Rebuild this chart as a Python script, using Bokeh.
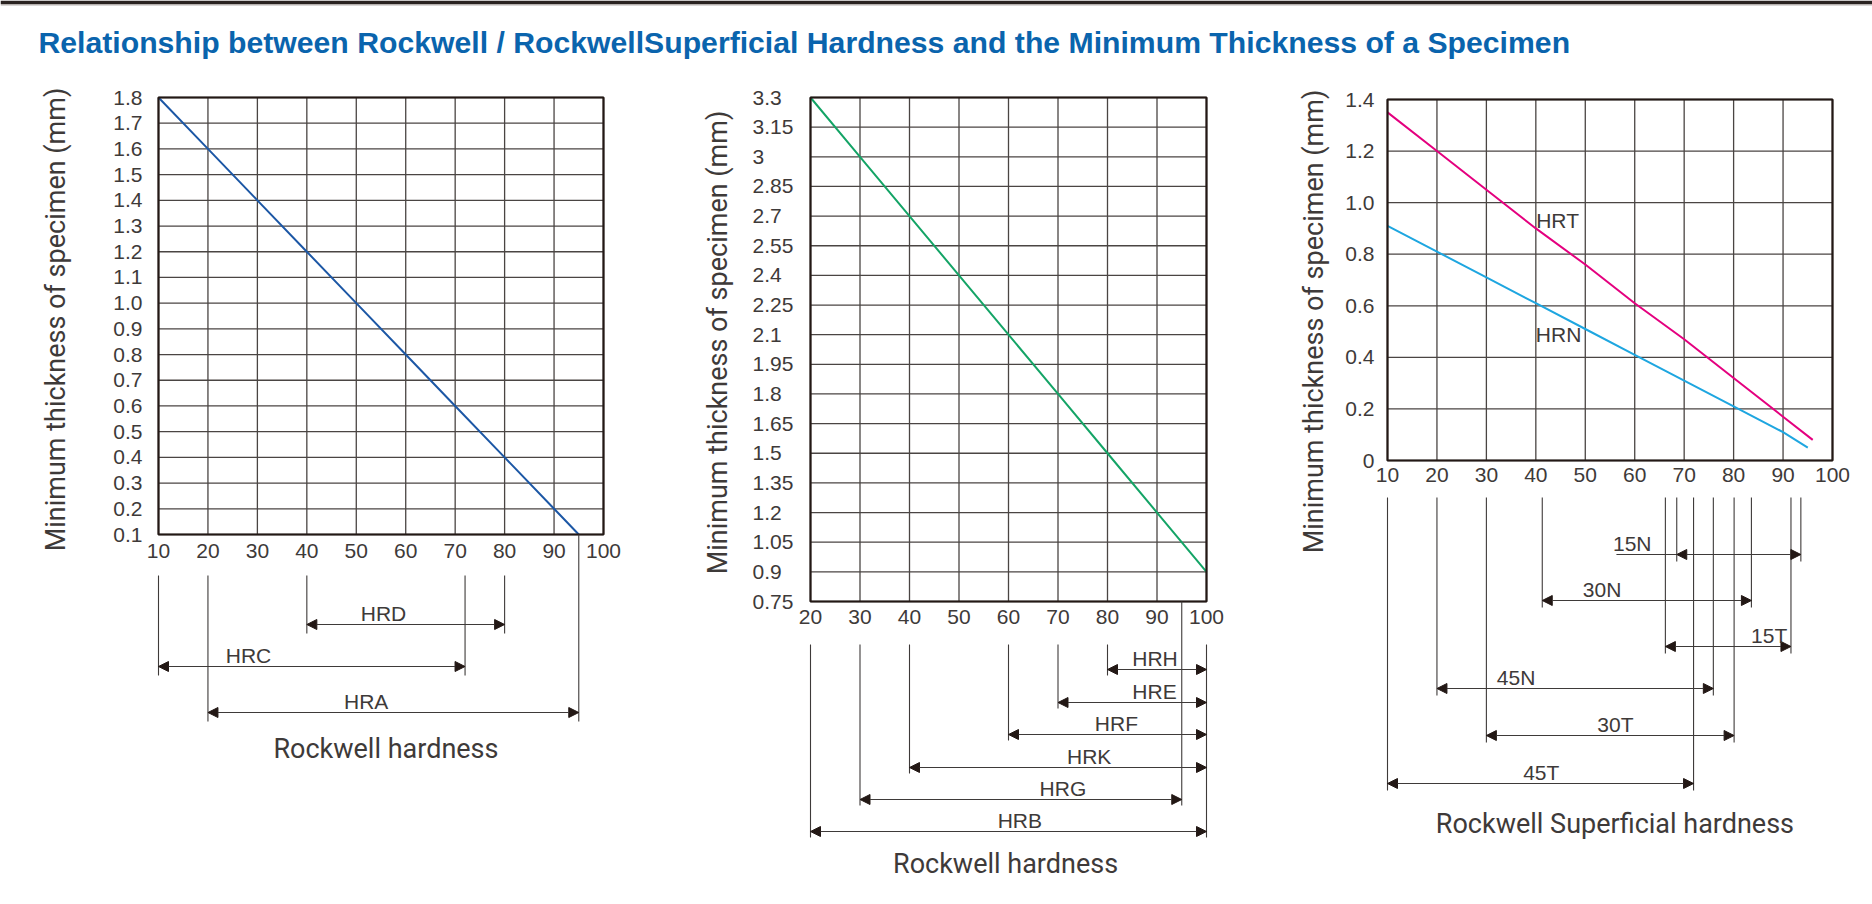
import math
from bokeh.plotting import figure
from bokeh.layouts import column, row
from bokeh.models import (Range1d, FixedTicker, Label, LabelSet, ColumnDataSource,
                          Arrow, NormalHead, BoxAnnotation, LinearAxis)
from bokeh.core.properties import value
from bokeh.embed import file_html
from bokeh.resources import INLINE

# ---------------- data ----------------
TITLE = ("Relationship between Rockwell / RockwellSuperficial Hardness "
         "and the Minimum Thickness of a Specimen")
Y_TITLE = "Minimum thickness of specimen (mm)"

# Panel 1 : Rockwell hardness (HRA, HRC, HRD)
p1_x_ticks = [10, 20, 30, 40, 50, 60, 70, 80, 90, 100]
p1_y_ticks = [0.1, 0.2, 0.3, 0.4, 0.5, 0.6, 0.7, 0.8, 0.9, 1.0,
              1.1, 1.2, 1.3, 1.4, 1.5, 1.6, 1.7, 1.8]
p1_y_tick_labels = ["0.1", "0.2", "0.3", "0.4", "0.5", "0.6", "0.7", "0.8", "0.9", "1.0",
                    "1.1", "1.2", "1.3", "1.4", "1.5", "1.6", "1.7", "1.8"]
p1_hardness = [10, 20, 30, 40, 50, 60, 70, 80, 90, 95]
p1_thickness = [1.8, 1.6, 1.4, 1.2, 1.0, 0.8, 0.6, 0.4, 0.2, 0.1]
p1_scales = ["HRD", "HRC", "HRA"]
p1_from = [40, 10, 20]
p1_to = [80, 72, 95]
p1_label_at = [55.5, 28.2, 52.0]
p1_x_title = "Rockwell hardness"

# Panel 2 : Rockwell hardness (HRB, HRE, HRF, HRG, HRH, HRK)
p2_x_ticks = [20, 30, 40, 50, 60, 70, 80, 90, 100]
p2_y_ticks = [0.75, 0.9, 1.05, 1.2, 1.35, 1.5, 1.65, 1.8, 1.95, 2.1,
              2.25, 2.4, 2.55, 2.7, 2.85, 3.0, 3.15, 3.3]
p2_y_tick_labels = ["0.75", "0.9", "1.05", "1.2", "1.35", "1.5", "1.65", "1.8", "1.95", "2.1",
                    "2.25", "2.4", "2.55", "2.7", "2.85", "3", "3.15", "3.3"]
p2_hardness = [20, 30, 40, 50, 60, 70, 80, 90, 100]
p2_thickness = [3.3, 3.0, 2.7, 2.4, 2.1, 1.8, 1.5, 1.2, 0.9]
p2_scales = ["HRH", "HRE", "HRF", "HRK", "HRG", "HRB"]
p2_from = [80, 70, 60, 40, 30, 20]
p2_to = [100, 100, 100, 100, 95, 100]
p2_label_at = [89.6, 89.5, 81.8, 76.3, 71.0, 62.3]
p2_x_title = "Rockwell hardness"

# Panel 3 : Rockwell superficial hardness
p3_x_ticks = [10, 20, 30, 40, 50, 60, 70, 80, 90, 100]
p3_y_ticks = [0.0, 0.2, 0.4, 0.6, 0.8, 1.0, 1.2, 1.4]
p3_y_tick_labels = ["0", "0.2", "0.4", "0.6", "0.8", "1.0", "1.2", "1.4"]
p3_hrt_hardness = [10, 20, 30, 40, 50, 60, 70, 80, 90, 96]
p3_hrt_thickness = [1.35, 1.20, 1.05, 0.90, 0.76, 0.61, 0.47, 0.32, 0.17, 0.08]
p3_hrn_hardness = [10, 20, 30, 40, 50, 60, 70, 80, 90, 95]
p3_hrn_thickness = [0.91, 0.81, 0.71, 0.61, 0.51, 0.41, 0.31, 0.21, 0.11, 0.05]
p3_series = ["HRT", "HRN"]
p3_series_label_x = [44.4, 44.6]
p3_series_label_y = [0.932, 0.489]
p3_scales = ["15N", "30N", "15T", "45N", "30T", "45T"]
p3_from = [68.5, 41.3, 66.2, 20, 30, 10]
p3_to = [93.6, 83.6, 91.6, 75.9, 80.1, 71.9]
p3_lead = [56.3, 41.3, 66.2, 20, 30, 10]
p3_label_at = [59.5, 53.4, 87.2, 36.0, 56.1, 41.1]
p3_x_title = "Rockwell Superficial hardness"

# ---------------- style ----------------
INK = "#3e3a39"
LINE_INK = "#231815"
GRID = "#4a4543"
TITLE_BLUE = "#0a64ad"
C_BLUE = "#1c57a5"
C_GREEN = "#14a466"
C_MAGENTA = "#e4007f"
C_CYAN = "#1ea6e0"
TICK_FONT = "Liberation Sans"
TICK_SIZE = "21px"
LAB_SIZE = "21px"
AXT_FONT = "Roboto"
AXT_SIZE = "27px"
PANEL_H = 816      # canvas height of each panel
PANEL_TOP = 80     # page y of panel canvases
PAGE_W = 1872

# layout geometry, page pixels: canvas left cx / width W, plot box gx0..gx1 / gy0..gy1
G1 = dict(x0=10, x1=100, y0=0.1, y1=1.8, cx=0, W=660, gx0=158, gx1=603, gy0=97, gy1=534,
          rows=[90, 132, 178], ext_top=41, tail=9, from_axis=[95], rise=11,
          xstand=9, ystand=16, yt_dx=103, yt_dy=222, xt_x=56, xt_dy=214)
G2 = dict(x0=20, x1=100, y0=0.75, y1=3.3, cx=660, W=600, gx0=810, gx1=1206, gy0=97, gy1=601,
          rows=[68, 101, 133, 166, 198, 230], ext_top=43, tail=6, from_axis=[95], rise=11,
          xstand=8, ylab_dx=58, yt_dx=93, yt_dy=245, xt_x=59.4, xt_dy=262)
G3 = dict(x0=10, x1=100, y0=0.0, y1=1.4, cx=1260, W=612, gx0=1387, gx1=1832, gy0=99, gy1=460,
          rows=[94, 140, 186, 228, 275, 323], ext_top=37, tail=7, from_axis=[], rise=11,
          xstand=7, ystand=13, yt_dx=74, yt_dy=222, xt_x=56, xt_dy=363)


def make_panel(g, xt, yt, ylabels, left_aligned_labels=False):
    kx = (g["gx1"] - g["gx0"]) / (g["x1"] - g["x0"])
    ky = (g["gy1"] - g["gy0"]) / (g["y1"] - g["y0"])

    def Yb(px):  # px below plot-box bottom -> data y
        return g["y0"] - px / ky

    def Yt(px):  # px below plot-box top -> data y
        return g["y1"] - px / ky

    def Xl(px):  # px left of plot box -> data x
        return g["x0"] - px / kx

    x_start = g["x0"] - (g["gx0"] - g["cx"]) / kx
    x_end = g["x1"] + (g["cx"] + g["W"] - g["gx1"]) / kx
    y_end = g["y1"] + (g["gy0"] - PANEL_TOP) / ky
    y_start = g["y0"] - (PANEL_TOP + PANEL_H - g["gy1"]) / ky

    p = figure(width=g["W"], height=PANEL_H,
               x_range=Range1d(x_start, x_end), y_range=Range1d(y_start, y_end),
               output_backend="svg", toolbar_location=None, min_border=0,
               x_axis_location=None, y_axis_location=None)
    p.grid.visible = False
    p.outline_line_color = None
    p.background_fill_color = "white"
    p.border_fill_color = "white"

    # grid drawn from the tick arrays, limited to the plot box
    p.segment(x0=xt, y0=[g["y0"]] * len(xt), x1=xt, y1=[g["y1"]] * len(xt),
              line_color=GRID, line_width=1.3)
    p.segment(x0=[g["x0"]] * len(yt), y0=yt, x1=[g["x1"]] * len(yt), y1=yt,
              line_color=GRID, line_width=1.3)

    xa = LinearAxis(fixed_location=g["y0"], ticker=FixedTicker(ticks=xt))
    axes = [xa]
    p.add_layout(xa, "below")
    if not left_aligned_labels:
        ya = LinearAxis(fixed_location=g["x0"], ticker=FixedTicker(ticks=yt),
                        major_label_overrides=dict(zip(yt, ylabels)))
        p.add_layout(ya, "left")
        axes.append(ya)
        ya.major_label_standoff = g["ystand"]
    else:
        src = ColumnDataSource(dict(x=[Xl(g["ylab_dx"])] * len(yt), y=yt, t=ylabels))
        p.add_layout(LabelSet(x="x", y="y", text="t", source=src, text_align="left",
                              text_baseline="middle", text_font=value(TICK_FONT),
                              text_font_size=value(TICK_SIZE), text_color=INK))
    for ax in axes:
        ax.major_tick_line_color = None
        ax.minor_tick_line_color = None
        ax.axis_line_color = None
        ax.major_tick_in = 0
        ax.major_tick_out = 0
        ax.major_label_text_font = TICK_FONT
        ax.major_label_text_font_size = TICK_SIZE
        ax.major_label_text_color = INK
    xa.major_label_standoff = g["xstand"]

    # y axis title
    p.add_layout(Label(x=Xl(g["yt_dx"]), y=Yt(g["yt_dy"]), text=Y_TITLE, angle=math.pi / 2,
                       text_align="center", text_baseline="middle", text_font=AXT_FONT,
                       text_font_size=AXT_SIZE, text_color=INK))
    return p, Yb


def add_box(p, g):
    p.quad(left=[g["x0"]], right=[g["x1"]], bottom=[g["y0"]], top=[g["y1"]],
           fill_color=None, line_color=LINE_INK, line_width=2.2)


def add_ranges(p, g, Yb, scales, froms, tos, label_at, x_title, leads=None):
    rows = g["rows"]
    ys = [Yb(r) for r in rows]
    head = dict(size=10, fill_color=LINE_INK, line_color=LINE_INK, line_width=1)
    depth = {}
    for f, t, r in zip(froms, tos, rows):
        for v in (f, t):
            depth[v] = max(depth.get(v, 0), r)
    vx = list(depth.keys())
    vy0 = [Yb(0) if v in g["from_axis"] else Yb(g["ext_top"]) for v in vx]
    vy1 = [Yb(depth[v] + g["tail"]) for v in vx]
    p.segment(x0=vx, y0=vy0, x1=vx, y1=vy1, line_color=INK, line_width=1.1)
    if leads is not None:
        p.segment(x0=leads, y0=ys, x1=froms, y1=ys, line_color=INK, line_width=1.1)
    asrc = ColumnDataSource(dict(xs=froms, xe=tos, y=ys))
    p.add_layout(Arrow(x_start="xs", y_start="y", x_end="xe", y_end="y", source=asrc,
                       start=NormalHead(**head), end=NormalHead(**head),
                       line_color=INK, line_width=1.1))
    tsrc = ColumnDataSource(dict(x=label_at, y=[Yb(r - g["rise"]) for r in rows], t=scales))
    p.add_layout(LabelSet(x="x", y="y", text="t", source=tsrc, text_align="center",
                          text_baseline="middle", text_font=value(TICK_FONT),
                          text_font_size=value(LAB_SIZE), text_color=INK))
    p.add_layout(Label(x=g["xt_x"], y=Yb(g["xt_dy"]), text=x_title, text_align="center",
                       text_baseline="middle", text_font=AXT_FONT, text_font_size=AXT_SIZE,
                       text_color=INK))


# ---- panel 1
p1, Yb1 = make_panel(G1, p1_x_ticks, p1_y_ticks, p1_y_tick_labels)
p1.line(p1_hardness, p1_thickness, line_color=C_BLUE, line_width=2)
add_box(p1, G1)
add_ranges(p1, G1, Yb1, p1_scales, p1_from, p1_to, p1_label_at, p1_x_title)

# ---- panel 2
p2, Yb2 = make_panel(G2, p2_x_ticks, p2_y_ticks, p2_y_tick_labels, left_aligned_labels=True)
p2.line(p2_hardness, p2_thickness, line_color=C_GREEN, line_width=2)
add_box(p2, G2)
add_ranges(p2, G2, Yb2, p2_scales, p2_from, p2_to, p2_label_at, p2_x_title)

# ---- panel 3
p3, Yb3 = make_panel(G3, p3_x_ticks, p3_y_ticks, p3_y_tick_labels)
p3.line(p3_hrt_hardness, p3_hrt_thickness, line_color=C_MAGENTA, line_width=2)
p3.line(p3_hrn_hardness, p3_hrn_thickness, line_color=C_CYAN, line_width=2)
add_box(p3, G3)
p3.text(x=p3_series_label_x, y=p3_series_label_y, text=p3_series, text_align="center",
        text_baseline="middle", text_font=value(TICK_FONT), text_font_size=value(LAB_SIZE),
        text_color=INK)
add_ranges(p3, G3, Yb3, p3_scales, p3_from, p3_to, p3_label_at, p3_x_title, leads=p3_lead)

# ---- header
HW, HH = PAGE_W, PANEL_TOP
hdr = figure(width=HW, height=HH, x_range=Range1d(0, HW), y_range=Range1d(0, HH),
             output_backend="svg", toolbar_location=None, min_border=0,
             x_axis_location=None, y_axis_location=None)
hdr.grid.visible = False
hdr.outline_line_color = None
hdr.background_fill_color = "white"
hdr.border_fill_color = "white"
hdr.add_layout(BoxAnnotation(top=HH, bottom=HH - 3.5, left=0, right=HW,
                             fill_color="#2a2321", fill_alpha=1, line_color=None))
hdr.add_layout(BoxAnnotation(top=HH - 3.5, bottom=HH - 5, left=0, right=HW,
                             fill_color="#b5b0ae", fill_alpha=1, line_color=None))
hdr.add_layout(Label(x=38, y=38, text=TITLE, text_font="Liberation Sans",
                     text_font_style="bold", text_font_size="30.2px", text_color=TITLE_BLUE,
                     text_baseline="alphabetic", text_align="left"))

layout = column(hdr, row(p1, p2, p3, spacing=0), spacing=0)
open("out.html", "w").write(file_html(layout, INLINE))
